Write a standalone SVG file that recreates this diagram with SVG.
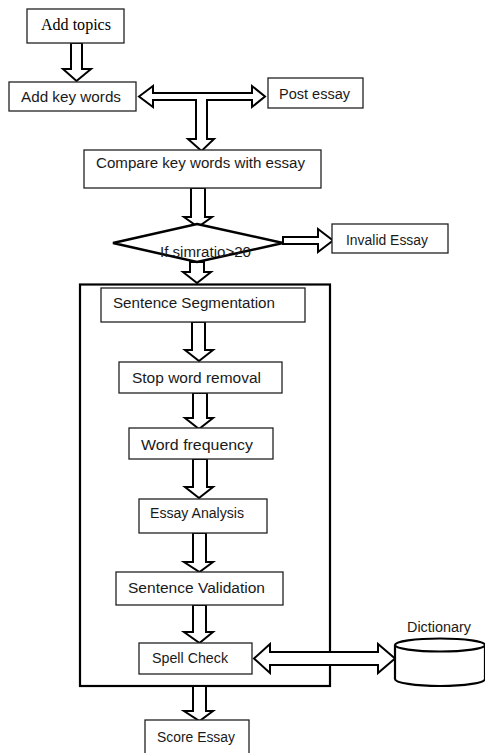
<svg xmlns="http://www.w3.org/2000/svg" width="485" height="753" viewBox="0 0 485 753">
<style>
.box{fill:#fff;stroke:#222;stroke-width:1.3}
.arr{fill:#fff;stroke:#000;stroke-width:2;stroke-linejoin:miter}
.t{font-family:"Liberation Sans","Open Sans",sans-serif;font-size:14px;fill:#1a1a1a}
.s{font-family:"Liberation Serif",serif;font-size:16px;fill:#000}
</style>
<rect width="485" height="753" fill="#fff"/>
<g id="process">
<rect x="80" y="284.5" width="250" height="401.5" fill="none" stroke="#000" stroke-width="2.2"/>
</g>
<g id="connectors">
<path class="arr" d="M71,43 V69 H63 L76.5,81 L91,69 H82 V43 Z"/>
<path class="arr" d="M139,96.5 L153,86 V93 H252 V86 L265,96.5 L252,107 V100 H207 V139 H214 L201.5,151 L188,139 H196 V100 H153 V107 Z"/>
<path class="arr" d="M191,188 V217 H184 L198,227 L212,217 H205 V188 Z"/>
<path class="arr" d="M283,237 H318 V229 L333,240.5 L318,252 V244 H283 Z"/>
<path class="arr" d="M190,262 V272 H183 L197,283 L211,272 H204 V262 Z"/>
<path class="arr" d="M192,322 V350 H185 L199,361 L213,350 H205 V322 Z"/>
<path class="arr" d="M193,393 V418 H185 L199,429 L213,418 H207 V393 Z"/>
<path class="arr" d="M193,459 V487 H185 L199,498 L213,487 H207 V459 Z"/>
<path class="arr" d="M193,533 V562 H184 L199.5,572 L213,562 H206 V533 Z"/>
<path class="arr" d="M193,605 V632 H184 L199.5,643 L213,632 H206 V605 Z"/>
<path class="arr" d="M254,658.5 L270,644 V652 H378 V644 L395,658.5 L378,673 V665 H270 V673 Z"/>
<path class="arr" d="M193,686 V711 H184 L199.5,721 L213,711 H206 V686 Z"/>
</g>
<g id="add-topics">
<rect class="box" x="27" y="9" width="97" height="34"/>
<text class="s" x="41" y="30" textLength="70" lengthAdjust="spacingAndGlyphs">Add topics</text>
</g>
<g id="add-key-words">
<rect class="box" x="9" y="82" width="127" height="29"/>
<text class="t" x="21" y="102" textLength="100" lengthAdjust="spacingAndGlyphs">Add key words</text>
</g>
<g id="post-essay">
<rect class="box" x="268" y="78" width="95" height="30"/>
<text class="t" x="279" y="99" textLength="71" lengthAdjust="spacingAndGlyphs">Post essay</text>
</g>
<g id="compare">
<rect class="box" x="84" y="150" width="237" height="38"/>
<text class="t" x="96" y="168" textLength="209" lengthAdjust="spacingAndGlyphs">Compare key words with essay</text>
</g>
<g id="decision">
<polygon points="197,224 283,243 197,262 113,243" fill="#fff" stroke="#000" stroke-width="2.5"/>
<text class="t" x="160" y="257" textLength="91" lengthAdjust="spacingAndGlyphs">If simratio&gt;20</text>
</g>
<g id="invalid-essay">
<rect class="box" x="332" y="224" width="116" height="29"/>
<text class="t" x="346" y="245" textLength="82" lengthAdjust="spacingAndGlyphs">Invalid Essay</text>
</g>
<g id="sentence-segmentation">
<rect class="box" x="101" y="288" width="204" height="34"/>
<text class="t" x="113" y="308" textLength="162" lengthAdjust="spacingAndGlyphs">Sentence Segmentation</text>
</g>
<g id="stop-word-removal">
<rect class="box" x="119" y="362" width="163" height="31"/>
<text class="t" x="132" y="383" textLength="129" lengthAdjust="spacingAndGlyphs">Stop word removal</text>
</g>
<g id="word-frequency">
<rect class="box" x="129" y="428" width="144" height="31"/>
<text class="t" x="141" y="450" textLength="112" lengthAdjust="spacingAndGlyphs">Word frequency</text>
</g>
<g id="essay-analysis">
<rect class="box" x="139" y="499" width="128" height="34"/>
<text class="t" x="150" y="518" textLength="94" lengthAdjust="spacingAndGlyphs">Essay Analysis</text>
</g>
<g id="sentence-validation">
<rect class="box" x="116" y="572" width="167" height="33"/>
<text class="t" x="128" y="593" textLength="137" lengthAdjust="spacingAndGlyphs">Sentence Validation</text>
</g>
<g id="spell-check">
<rect class="box" x="139" y="643" width="113" height="31"/>
<text class="t" x="152" y="663" textLength="76" lengthAdjust="spacingAndGlyphs">Spell Check</text>
</g>
<g id="dictionary">
<path d="M395,645 V679 A45,7 0 0 0 485,679 V645" fill="#fff" stroke="#000" stroke-width="2.2"/>
<ellipse cx="440" cy="645" rx="45" ry="6.5" fill="#fff" stroke="#000" stroke-width="2.2"/>
<text class="t" x="407" y="632" textLength="64" lengthAdjust="spacingAndGlyphs">Dictionary</text>
</g>
<g id="score-essay">
<rect class="box" x="145" y="720" width="104" height="36"/>
<text class="t" x="157" y="742" textLength="78" lengthAdjust="spacingAndGlyphs">Score Essay</text>
</g>
</svg>
